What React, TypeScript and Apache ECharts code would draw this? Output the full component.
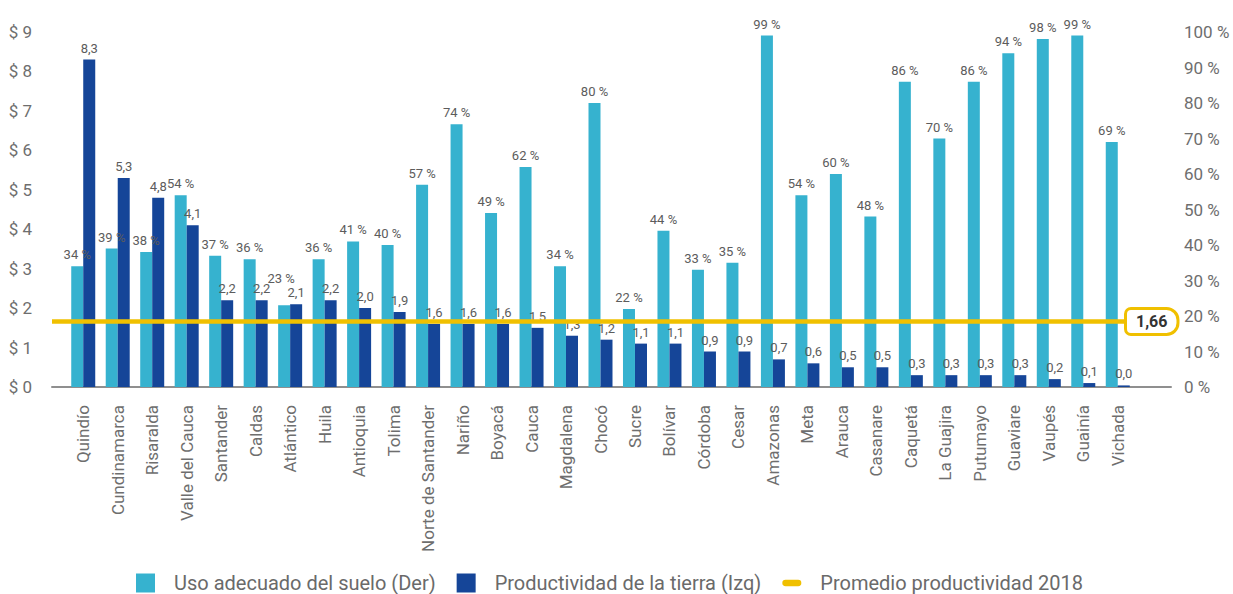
import React, { useEffect, useRef } from "react";
import * as echarts from "echarts";

// Departamentos, en el orden del gráfico
const departamentos: string[] = [
  "Quindío", "Cundinamarca", "Risaralda", "Valle del Cauca", "Santander", "Caldas",
  "Atlántico", "Huila", "Antioquia", "Tolima", "Norte de Santander", "Nariño",
  "Boyacá", "Cauca", "Magdalena", "Chocó", "Sucre", "Bolívar", "Córdoba", "Cesar",
  "Amazonas", "Meta", "Arauca", "Casanare", "Caquetá", "La Guajira", "Putumayo",
  "Guaviare", "Vaupés", "Guainía", "Vichada",
];

// Uso adecuado del suelo (%), eje derecho
const usoAdecuado: number[] = [
  34, 39, 38, 54, 37, 36, 23, 36, 41, 40, 57, 74, 49, 62, 34, 80, 22, 44, 33, 35,
  99, 54, 60, 48, 86, 70, 86, 94, 98, 99, 69,
];

// Productividad de la tierra (millones de pesos por hectárea), eje izquierdo
const productividad: number[] = [
  8.3, 5.3, 4.8, 4.1, 2.2, 2.2, 2.1, 2.2, 2.0, 1.9, 1.6, 1.6, 1.6, 1.5, 1.3, 1.2,
  1.1, 1.1, 0.9, 0.9, 0.7, 0.6, 0.5, 0.5, 0.3, 0.3, 0.3, 0.3, 0.2, 0.1, 0.04,
];

// Promedio nacional de productividad 2018
const promedio2018 = 1.66;

const ticksPesos = { min: 0, max: 9, interval: 1 };
const ticksPorcentaje = { min: 0, max: 100, interval: 10 };

const SERIE_USO = "Uso adecuado del suelo (Der)";
const SERIE_PROD = "Productividad de la tierra (Izq)";
const SERIE_PROM = "Promedio productividad 2018";

const FONT = "Roboto, 'DejaVu Sans', sans-serif";
const CELESTE = "#36B2CF";
const AZUL = "#154598";
const AMARILLO = "#F0C000";
const GRIS_TEXTO = "#6e6e6e";
const GRIS_ETIQUETA = "#5c5c5c";

const coma = (v: number) => v.toFixed(1).replace(".", ",");

// Etiquetas que se levantan para no chocar con la barra vecina
const etiquetaElevada: Record<number, number[]> = { 6: [-3, -15] };

export default function App() {
  const ref = useRef<HTMLDivElement>(null);

  useEffect(() => {
    if (!ref.current) return;
    const chart = echarts.init(ref.current, null, { renderer: "svg" });

    const top = 32;
    const bottom = 207;

    const datosUso = usoAdecuado.map((v, i) =>
      etiquetaElevada[i] ? { value: v, label: { offset: etiquetaElevada[i] } } : v
    );

    chart.setOption({
      animation: false,
      backgroundColor: "#ffffff",
      textStyle: { fontFamily: FONT },
      grid: [
        // barras
        { left: 66, right: 98, top, bottom },
        // marco con los ejes visibles
        { left: 52, right: 62, top, bottom },
        // línea del promedio
        { left: 52, right: 106, top, bottom },
      ],
      legend: {
        left: 136,
        top: 573,
        padding: 0,
        itemWidth: 19,
        itemHeight: 19,
        itemGap: 21,
        textStyle: {
          fontFamily: FONT,
          fontSize: 20,
          color: "#6a6a6a",
          padding: [0, 0, 0, 14],
        },
        data: [
          { name: SERIE_USO, icon: "rect" },
          { name: SERIE_PROD, icon: "rect", textStyle: { padding: [0, 8, 0, 14] } },
          {
            name: SERIE_PROM,
            icon: "path://M3,0 L15,0 A3,3 0 0 1 15,6 L3,6 A3,3 0 0 1 3,0 Z",
          },
        ],
      },
      xAxis: [
        {
          type: "category",
          gridIndex: 0,
          data: departamentos,
          axisLine: { show: false },
          axisTick: { show: false },
          axisLabel: {
            interval: 0,
            rotate: 90,
            margin: 18,
            fontSize: 17,
            color: GRIS_TEXTO,
            fontFamily: FONT,
          },
        },
        {
          type: "value",
          gridIndex: 1,
          min: 0,
          max: 1,
          axisLine: { show: true, lineStyle: { color: "#8f8f8f", width: 2 } },
          axisTick: { show: false },
          axisLabel: { show: false },
          splitLine: { show: false },
        },
        {
          type: "category",
          gridIndex: 2,
          data: ["", ""],
          boundaryGap: false,
          show: false,
        },
      ],
      yAxis: [
        { type: "value", gridIndex: 0, ...ticksPesos, show: false, splitLine: { show: false } },
        { type: "value", gridIndex: 0, ...ticksPorcentaje, show: false, splitLine: { show: false } },
        {
          type: "value",
          gridIndex: 1,
          position: "left",
          ...ticksPesos,
          axisLine: { show: false },
          axisTick: { show: false },
          splitLine: { show: false },
          axisLabel: {
            margin: 20,
            fontSize: 17,
            color: GRIS_TEXTO,
            fontFamily: FONT,
            formatter: (v: number) => `$ ${v}`,
          },
        },
        {
          type: "value",
          gridIndex: 1,
          position: "right",
          ...ticksPorcentaje,
          axisLine: { show: false },
          axisTick: { show: false },
          splitLine: { show: false },
          axisLabel: {
            margin: 13,
            fontSize: 17,
            color: GRIS_TEXTO,
            fontFamily: FONT,
            formatter: (v: number) => `${v} %`,
          },
        },
        { type: "value", gridIndex: 2, ...ticksPesos, show: false, splitLine: { show: false } },
      ],
      series: [
        {
          name: SERIE_USO,
          type: "bar",
          xAxisIndex: 0,
          yAxisIndex: 1,
          data: datosUso,
          barWidth: 12,
          barGap: "0%",
          itemStyle: { color: CELESTE },
          label: {
            show: true,
            position: "top",
            distance: 5,
            fontSize: 13,
            color: GRIS_ETIQUETA,
            fontFamily: FONT,
            formatter: (p: any) => `${p.value} %`,
          },
        },
        {
          name: SERIE_PROD,
          type: "bar",
          xAxisIndex: 0,
          yAxisIndex: 0,
          data: productividad,
          barWidth: 12,
          barGap: "0%",
          itemStyle: { color: AZUL },
          label: {
            show: true,
            position: "top",
            distance: 5,
            fontSize: 13,
            color: GRIS_ETIQUETA,
            fontFamily: FONT,
            formatter: (p: any) => coma(p.value),
          },
        },
        {
          name: SERIE_PROM,
          type: "line",
          xAxisIndex: 2,
          yAxisIndex: 4,
          data: [promedio2018, promedio2018],
          symbol: "none",
          color: AMARILLO,
          lineStyle: { color: AMARILLO, width: 4.5 },
          z: 5,
          endLabel: {
            show: true,
            distance: 0,
            formatter: () => promedio2018.toFixed(2).replace(".", ","),
            fontFamily: FONT,
            fontSize: 16,
            fontWeight: "bold",
            color: "#333333",
            backgroundColor: "#ffffff",
            borderColor: AMARILLO,
            borderWidth: 3,
            borderRadius: [4, 10, 10, 4],
            padding: [4, 9, 3, 9],
          },
        },
      ],
    });

    return () => chart.dispose();
  }, []);

  return (
    <div
      ref={ref}
      style={{ position: "absolute", left: 0, top: 0, width: 1233, height: 594 }}
    />
  );
}
